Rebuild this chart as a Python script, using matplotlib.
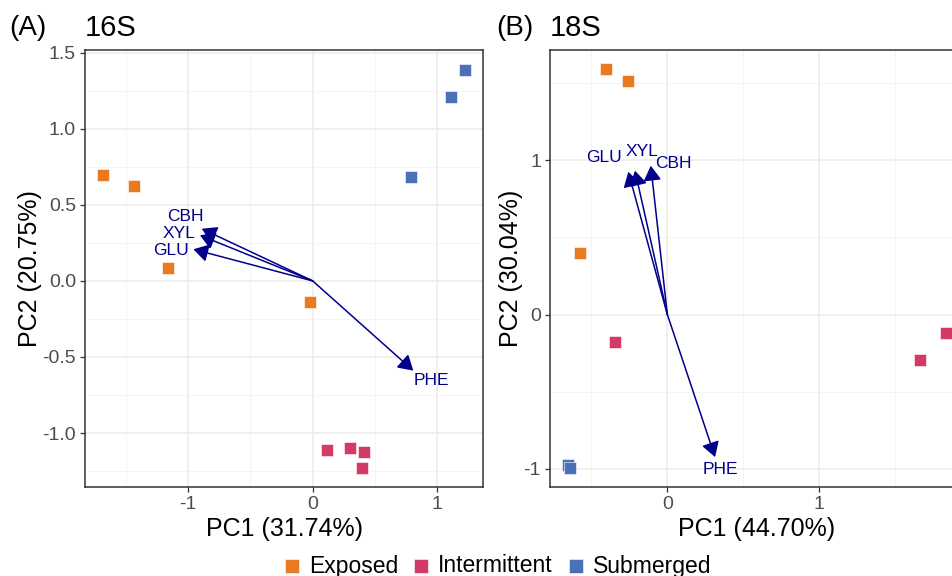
import numpy as np
import matplotlib.pyplot as plt
from matplotlib.ticker import MultipleLocator

plt.rcParams['font.family'] = ['Liberation Sans', 'DejaVu Sans']
plt.rcParams['axes.unicode_minus'] = False

groups = ["Exposed", "Intermittent", "Submerged"]
group_colors = ["#E87A21", "#D33A66", "#4A70B8"]

# 16S site scores
pc1_16s = [-1.684, -1.435, -1.160, -0.019, 0.112, 0.297, 0.411, 0.395, 1.221, 1.107, 0.786]
pc2_16s = [0.695, 0.623, 0.085, -0.136, -1.110, -1.100, -1.126, -1.231, 1.384, 1.209, 0.682]
grp_16s = [0, 0, 0, 0, 1, 1, 1, 1, 2, 2, 2]

# 16S enzyme loadings
enz_16s = ["CBH", "XYL", "GLU", "PHE"]
load1_16s = [-0.890, -0.904, -0.957, 0.807]
load2_16s = [0.343, 0.300, 0.208, -0.590]
lab1_16s = [-1.018, -1.072, -1.136, 0.949]
lab2_16s = [0.426, 0.312, 0.201, -0.656]

# 18S site scores
pc1_18s = [-0.401, -0.257, -0.576, -0.346, 1.662, 1.834, -0.651, -0.640]
pc2_18s = [1.593, 1.515, 0.396, -0.178, -0.292, -0.119, -0.974, -0.994]
grp_18s = [0, 0, 0, 1, 1, 1, 2, 2]

# 18S enzyme loadings
enz_18s = ["GLU", "XYL", "CBH", "PHE"]
load1_18s = [-0.257, -0.213, -0.109, 0.314]
load2_18s = [0.926, 0.933, 0.965, -0.925]
lab1_18s = [-0.414, -0.168, 0.039, 0.347]
lab2_18s = [1.019, 1.056, 0.981, -1.006]


def draw_panel(ax, pc1, pc2, grp, enz, l1, l2, t1, t2):
    pc1 = np.array(pc1)
    pc2 = np.array(pc2)
    grp = np.array(grp)
    for i, name in enumerate(groups):
        sel = grp == i
        ax.scatter(pc1[sel], pc2[sel], marker="s", s=80, color=group_colors[i],
                   edgecolors="#FFFFFF", linewidths=0.4, label=name, zorder=3)
    for name, x, y, tx, ty in zip(enz, l1, l2, t1, t2):
        ax.annotate("", xy=(x, y), xytext=(0, 0),
                    arrowprops=dict(arrowstyle="-|>,head_length=0.5,head_width=0.3",
                                    color="#00008B", lw=1.1,
                                    mutation_scale=18, shrinkA=0, shrinkB=0),
                    zorder=4)
        ax.text(tx, ty, name, color="#00008B", fontsize=12.5, ha="center", va="center", zorder=5)

    ax.set_facecolor("white")
    ax.grid(True, which="major", color="#EBEBEB", lw=1.1, zorder=0)
    ax.grid(True, which="minor", color="#F2F2F2", lw=0.6, zorder=0)
    ax.set_axisbelow(True)
    for sp in ax.spines.values():
        sp.set_color("#333333")
        sp.set_linewidth(1.1)
    ax.tick_params(which="major", colors="#333333", labelcolor="#4D4D4D", labelsize=14,
                   length=3.5, width=0.9, pad=3)
    ax.tick_params(which="minor", length=0)


fig = plt.figure(figsize=(9.52, 5.76), dpi=100)

ax1 = fig.add_axes([85 / 952, 1 - 487 / 576, 398 / 952, 437 / 576])
draw_panel(ax1, pc1_16s, pc2_16s, grp_16s, enz_16s, load1_16s, load2_16s, lab1_16s, lab2_16s)
ax1.set_xlim(-1.826, 1.366)
ax1.set_ylim(-1.355, 1.518)
ax1.set_xticks([-1, 0, 1])
ax1.set_yticks([-1.0, -0.5, 0.0, 0.5, 1.0, 1.5])
ax1.set_yticklabels(["-1.0", "-0.5", "0.0", "0.5", "1.0", "1.5"])
ax1.xaxis.set_minor_locator(MultipleLocator(0.5))
ax1.yaxis.set_minor_locator(MultipleLocator(0.25))
ax1.set_xlabel("PC1 (31.74%)", fontsize=18, labelpad=3)
ax1.set_ylabel("PC2 (20.75%)", fontsize=18, labelpad=0.5)
ax1.set_title("16S", loc="left", fontsize=21, pad=10)

ax2 = fig.add_axes([550 / 952, 1 - 487 / 576, 413 / 952, 437 / 576])
draw_panel(ax2, pc1_18s, pc2_18s, grp_18s, enz_18s, load1_18s, load2_18s, lab1_18s, lab2_18s)
ax2.set_xlim(-0.772, 1.945)
ax2.set_ylim(-1.119, 1.716)
ax2.set_xticks([0, 1])
ax2.set_yticks([-1, 0, 1])
ax2.xaxis.set_minor_locator(MultipleLocator(0.5))
ax2.yaxis.set_minor_locator(MultipleLocator(0.5))
ax2.set_xlabel("PC1 (44.70%)", fontsize=18, labelpad=3)
ax2.set_ylabel("PC2 (30.04%)", fontsize=18, labelpad=0.5)
ax2.set_title("18S", loc="left", fontsize=21, pad=10)

fig.text(9 / 952, 1 - 35 / 576, "(A)", fontsize=20, va="baseline", ha="left")
fig.text(496 / 952, 1 - 35 / 576, "(B)", fontsize=20, va="baseline", ha="left")

handles, labels = ax1.get_legend_handles_labels()
fig.legend(handles, labels, loc="center", bbox_to_anchor=(497 / 952, 1 - 566 / 576), ncol=3,
           frameon=False, fontsize=16.5, handletextpad=0.35, columnspacing=0.6,
           handlelength=0.8, markerscale=1.05)

fig.savefig("out.png", dpi=100)
